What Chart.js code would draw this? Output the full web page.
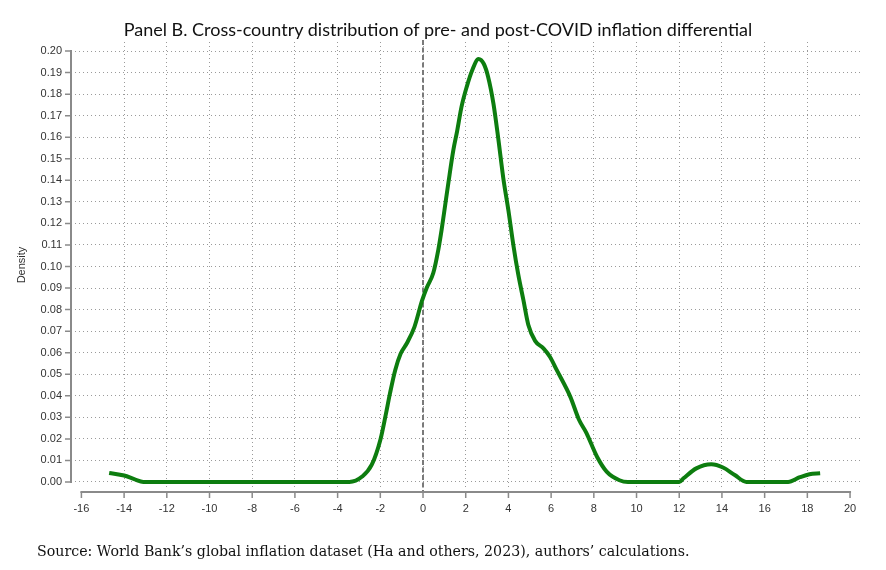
<!DOCTYPE html>
<html>
<head>
<meta charset="utf-8">
<script src="https://cdn.jsdelivr.net/npm/chart.js@4"></script>
<style>
  html, body { margin: 0; padding: 0; background: #fff; }
  #wrap { position: relative; width: 886px; height: 570px; }
  #title { position: absolute; left: -5px; top: 18px; width: 886px; text-align: center;
    font-family: Lato, sans-serif; font-size: 18px; color: #111; }
  #source { position: absolute; left: 37px; top: 543px;
    font-family: "DejaVu Serif", serif; font-size: 14.2px; color: #111; }
  canvas { position: absolute; left: 0; top: 0; }
</style>
</head>
<body>
<div id="wrap">
  <canvas id="myChart" width="886" height="570"></canvas>
  <div id="title">Panel B. Cross-country distribution of pre- and post-COVID inflation differential</div>
  <div id="source">Source: World Bank’s global inflation dataset (Ha and others, 2023), authors’ calculations.</div>
</div>
<script>
// inflation differential (x) and kernel density (y)
const differential = [
  -14.7, -14.0, -13.5, -13.1, -12, -10, -8, -6, -4, -3.45, -2.85, -2.4, -2.0,
  -1.75, -1.55, -1.3, -1.05, -0.75, -0.4, -0.05, 0.17, 0.48, 0.72, 0.87, 1.03,
  1.19, 1.42, 1.6, 1.8, 2.05, 2.3, 2.6, 2.85, 3.05, 3.3, 3.53, 3.76, 4.0, 4.23,
  4.46, 4.7, 4.93, 5.25, 5.64, 5.95, 6.26, 6.9, 7.3, 7.65, 8.15, 8.6, 9.2, 9.6,
  12, 12.2, 12.8, 13.5, 14.05, 14.6, 15.15, 17.1, 17.65, 18.1, 18.6
];
const density = [
  0.0042, 0.003, 0.0012, 0, 0, 0, 0, 0, 0, 0, 0.0025, 0.008, 0.0195,
  0.031, 0.041, 0.052, 0.0595, 0.0645, 0.072, 0.084, 0.090, 0.097, 0.108, 0.117, 0.128,
  0.139, 0.154, 0.163, 0.174, 0.1835, 0.191, 0.1963, 0.194, 0.188, 0.1755, 0.159, 0.141, 0.126, 0.11,
  0.0963, 0.0845, 0.073, 0.0655, 0.062, 0.058, 0.052, 0.0395, 0.029, 0.0228, 0.0117, 0.0048, 0.0008, 0,
  0, 0.0017, 0.0063, 0.0082, 0.0067, 0.0032, 0, 0, 0.0022, 0.0036, 0.004
];
const xTicks = [-16, -14, -12, -10, -8, -6, -4, -2, 0, 2, 4, 6, 8, 10, 12, 14, 16, 18, 20];
const yTicks = [0, 0.01, 0.02, 0.03, 0.04, 0.05, 0.06, 0.07, 0.08, 0.09, 0.10,
  0.11, 0.12, 0.13, 0.14, 0.15, 0.16, 0.17, 0.18, 0.19, 0.20];

const points = differential.map((x, i) => ({ x: x, y: density[i] }));

const axisGray = "#8a8a8a";
const gridGray = "#9a9a9a";

// stata style axes: offset lines that only span the tick range, plus the zero line
const axesPlugin = {
  id: "axes",
  beforeDatasetsDraw(chart) {
    const { ctx, chartArea, scales } = chart;
    const zx = Math.round(scales.x.getPixelForValue(0));
    ctx.save();
    ctx.strokeStyle = "#7a7a7a";
    ctx.lineWidth = 2;
    ctx.setLineDash([5, 2.5]);
    ctx.beginPath();
    ctx.moveTo(zx, chartArea.top - 2);
    ctx.lineTo(zx, chartArea.bottom + 4);
    ctx.stroke();
    ctx.restore();
  },
  afterDraw(chart) {
    const { ctx, scales } = chart;
    const x = scales.x, y = scales.y;
    const ax = 71, ay = 492;
    ctx.save();
    ctx.strokeStyle = axisGray;
    ctx.lineWidth = 2;
    ctx.beginPath();
    ctx.moveTo(ax, y.getPixelForValue(0.2) - 1);
    ctx.lineTo(ax, y.getPixelForValue(0) + 1);
    ctx.moveTo(x.getPixelForValue(-16) - 1, ay);
    ctx.lineTo(x.getPixelForValue(20) + 1, ay);
    ctx.stroke();
    ctx.lineWidth = 1.5;
    ctx.beginPath();
    yTicks.forEach((t) => {
      const p = y.getPixelForValue(t);
      ctx.moveTo(65, p);
      ctx.lineTo(ax, p);
    });
    xTicks.forEach((t) => {
      const p = x.getPixelForValue(t);
      ctx.moveTo(p, ay);
      ctx.lineTo(p, ay + 6);
    });
    ctx.stroke();
    ctx.restore();
  },
};

new Chart(document.getElementById("myChart"), {
  type: "line",
  data: {
    datasets: [
      {
        label: "Density",
        data: points,
        borderColor: "#0d7d0f",
        borderWidth: 4,
        pointRadius: 0,
        cubicInterpolationMode: "monotone",
        fill: false,
      },
    ],
  },
  options: {
    responsive: false,
    animation: false,
    layout: { padding: { top: 42, right: 24, left: 0, bottom: 0 } },
    plugins: {
      legend: { display: false },
      tooltip: { enabled: false },
    },
    scales: {
      x: {
        type: "linear",
        min: -16.3,
        max: 20.56,
        afterBuildTicks: (s) => { s.ticks = xTicks.map((v) => ({ value: v })); },
        afterFit: (s) => { s.height = 82; },
        border: { display: false, dash: [1, 3] },
        grid: {
          drawTicks: false,
          lineWidth: 1,
          borderDash: [1, 3],
          color: (c) => (c.tick && (c.tick.value === -16 || c.tick.value === 20) ? "rgba(0,0,0,0)" : gridGray),
        },
        ticks: {
          padding: 14,
          maxRotation: 0,
          color: "#333",
          font: { family: "Liberation Sans", size: 11 },
          callback: (v) => String(v),
        },
      },
      y: {
        min: -0.0028,
        max: 0.2042,
        afterBuildTicks: (s) => { s.ticks = yTicks.map((v) => ({ value: v })); },
        afterFit: (s) => { s.width = 75; },
        border: { display: false, dash: [1, 3] },
        grid: { drawTicks: false, lineWidth: 1, borderDash: [1, 3], color: gridGray },
        ticks: {
          padding: 13,
          color: "#333",
          font: { family: "Liberation Sans", size: 11 },
          callback: (v) => v.toFixed(2),
        },
        title: {
          display: true,
          text: "Density",
          color: "#333",
          font: { family: "Liberation Sans", size: 11 },
          padding: { top: 15, bottom: 0 },
        },
      },
    },
  },
  plugins: [axesPlugin],
});
</script>
</body>
</html>
